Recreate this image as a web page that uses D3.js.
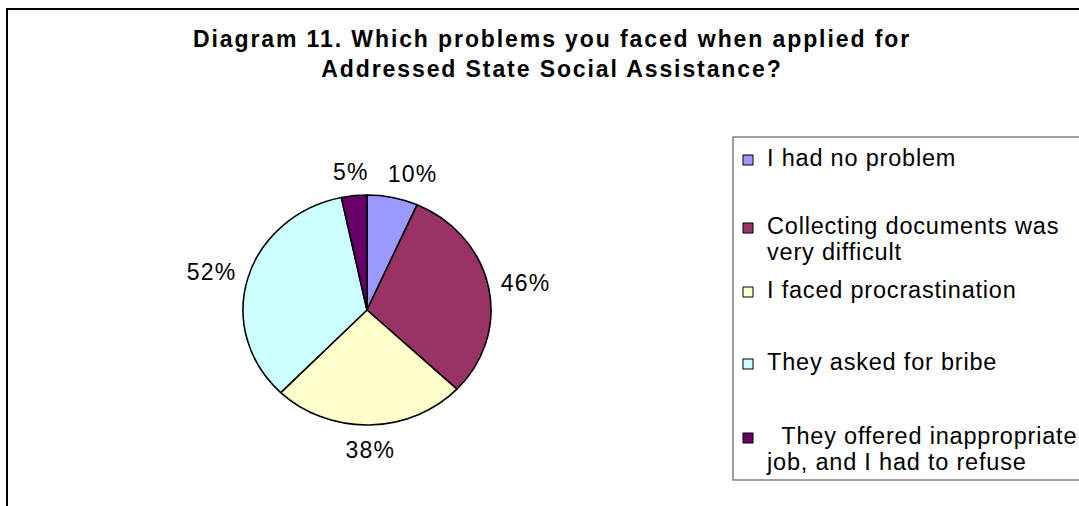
<!DOCTYPE html>
<html>
<head>
<meta charset="utf-8">
<script src="https://cdn.jsdelivr.net/npm/d3@7"></script>
<style>
  html, body { margin: 0; padding: 0; background: #fff; overflow: hidden; }
  svg { display: block; font-family: "Liberation Sans", Arial, Helvetica, sans-serif; }
</style>
</head>
<body>
<svg id="chart" width="1079" height="506"></svg>
<script>
// ---- data ----
const titleLines = [
  "Diagram 11. Which problems you faced when applied for",
  "Addressed State Social Assistance?"
];
const categories = [
  "I had no problem",
  "Collecting documents was very difficult",
  "I faced procrastination",
  "They asked for bribe",
  "They offered inappropriate job, and I had to refuse"
];
// legend text as it wraps inside the legend box
const legendLines = [
  ["I had no problem"],
  ["Collecting documents was", "very difficult"],
  ["I faced procrastination"],
  ["They asked for bribe"],
  ["  They offered inappropriate", "job, and I had to refuse"]
];
const values = [10, 46, 38, 52, 5];   // percent of respondents (multiple answers)
const colors = ["#9999FF", "#993366", "#FFFFCC", "#CCFFFF", "#660066"];

// ---- layout ----
const W = 1079, H = 506;
const cx = 367, cy = 310, rx = 124, ry = 115;
const labelGap = 13;        // distance of value labels from the pie rim
const labelFont = 23;
const legendX = 733, legendY = 137, legendH = 343;
const legendBaselines = [166, 234, 298, 370, 444];
const legendFont = 23.5, legendLineH = 26;

const svg = d3.select("#chart");

// outer chart frame
svg.append("rect")
  .attr("x", 7).attr("y", 9)
  .attr("width", W + 40).attr("height", H + 40)
  .attr("fill", "none").attr("stroke", "#000").attr("stroke-width", 2);

// title
svg.append("g").selectAll("text")
  .data(titleLines)
  .join("text")
  .attr("x", 552)
  .attr("y", (d, i) => 47 + i * 30)
  .attr("text-anchor", "middle")
  .attr("font-size", 23)
  .attr("font-weight", "bold")
  .attr("letter-spacing", 1.9)
  .attr("fill", "#000")
  .text(d => d);

// pie (drawn as a circle of radius ry, stretched horizontally to rx)
const pie = d3.pie().sort(null).value(d => d);
const arcs = pie(values);
const arc = d3.arc().innerRadius(0).outerRadius(ry);

svg.append("g")
  .attr("transform", `translate(${cx},${cy}) scale(${rx / ry},1)`)
  .selectAll("path")
  .data(arcs)
  .join("path")
  .attr("d", arc)
  .attr("fill", (d, i) => colors[i])
  .attr("stroke", "#000")
  .attr("stroke-width", 1.6)
  .attr("stroke-linejoin", "round")
  .attr("vector-effect", "non-scaling-stroke");

// value labels outside the rim
const labelG = svg.append("g");
const labels = arcs.map((a, i) => {
  const t = labelG.append("text")
    .attr("font-size", labelFont)
    .attr("letter-spacing", 1.2)
    .attr("fill", "#000")
    .text(values[i] + "%");
  const w = t.node().getComputedTextLength();
  const h = labelFont;
  const mid = (a.startAngle + a.endAngle) / 2;
  const s = Math.sin(mid), c = Math.cos(mid);
  const px = cx + (rx + labelGap) * s;
  const py = cy - (ry + labelGap) * c;
  return { t, w, h, x: px + (w / 2) * s, y: py - (h / 2) * c };
});
// keep neighbouring labels on the same height apart
const minGap = 19;
for (let i = 0; i < labels.length; i++) {
  for (let j = 0; j < labels.length; j++) {
    if (i === j) continue;
    const a = labels[i], b = labels[j];
    if (Math.abs(a.y - b.y) < a.h && a.x < b.x) {
      const gap = (b.x - b.w / 2) - (a.x + a.w / 2);
      if (gap < minGap) {
        if (b.x > cx) b.x += minGap - gap; else a.x -= minGap - gap;
      }
    }
  }
}
labels.forEach(l => {
  l.t.attr("x", l.x).attr("y", l.y + labelFont * 0.36).attr("text-anchor", "middle");
});

// legend
const legend = svg.append("g");
legend.append("rect")
  .attr("x", legendX).attr("y", legendY)
  .attr("width", W).attr("height", legendH)
  .attr("fill", "#fff").attr("stroke", "#808080").attr("stroke-width", 1.5);

const rows = legend.selectAll("g.row")
  .data(categories)
  .join("g")
  .attr("class", "row")
  .attr("transform", (d, i) => `translate(0,${legendBaselines[i]})`);

rows.append("rect")
  .attr("x", 743).attr("y", -11)
  .attr("width", 10).attr("height", 10)
  .attr("fill", (d, i) => colors[i])
  .attr("stroke", "#000").attr("stroke-width", 1);

rows.append("text")
  .attr("font-size", legendFont)
  .attr("letter-spacing", 0.8)
  .attr("fill", "#000")
  .style("white-space", "pre")
  .selectAll("tspan")
  .data((d, i) => legendLines[i])
  .join("tspan")
  .attr("x", 767)
  .attr("y", (d, k) => k * legendLineH)
  .text(d => d);
</script>
</body>
</html>
